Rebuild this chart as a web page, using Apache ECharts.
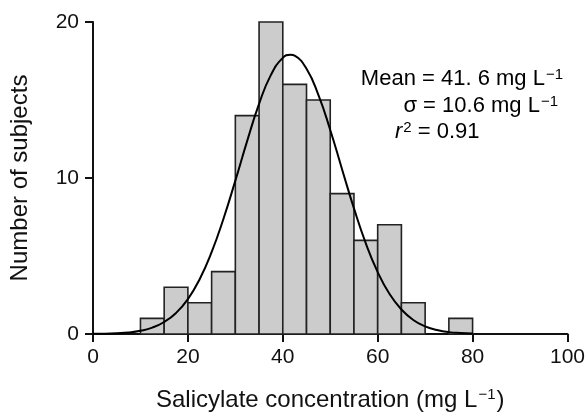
<!DOCTYPE html>
<html>
<head>
<meta charset="utf-8">
<script src="https://cdn.jsdelivr.net/npm/echarts@6/dist/echarts.min.js"></script>
<style>
html,body{margin:0;padding:0;background:#fff;}
#chart{width:588px;height:417px;}
</style>
</head>
<body>
<div id="chart"></div>
<script>
// Histogram bins (left edge, mg/L) and counts
var binStarts = [10, 15, 20, 25, 30, 35, 40, 45, 50, 55, 60, 65, 70, 75];
var binWidth = 5;
var counts = [1, 3, 2, 4, 14, 20, 16, 15, 9, 6, 7, 2, 0, 1];
// Fitted curve
var curveX = [0, 2.5, 5, 7.5, 10, 12.5, 15, 17.5, 20, 22.5, 25, 27.5, 30, 32.5, 35, 37.5, 40, 41.6, 42.5, 45, 47.5, 50, 52.5, 55, 57.5, 60, 62.5, 65, 67.5, 70, 72.5, 75, 77.5, 80];
var curveY = [0.01, 0.02, 0.05, 0.1, 0.21, 0.41, 0.77, 1.35, 2.24, 3.53, 5.25, 7.39, 9.83, 12.38, 14.75, 16.61, 17.7, 17.9, 17.84, 17.0, 15.33, 13.08, 10.55, 8.05, 5.81, 3.97, 2.56, 1.57, 0.9, 0.49, 0.26, 0.12, 0.06, 0.03];
var xTicks = [0, 20, 40, 60, 80, 100];
var yTicks = [0, 10, 20];

var FONT = 'Liberation Sans, Arial, Helvetica, sans-serif';
var chart = echarts.init(document.getElementById('chart'), null, {renderer: 'canvas'});

var barData = binStarts.map(function (s, i) { return [s, counts[i]]; });
var curveData = curveX.map(function (x, i) { return [x, curveY[i]]; });

var option = {
  backgroundColor: '#fff',
  animation: false,
  grid: {left: 92, right: 19, top: 22, bottom: 79},
  xAxis: {
    type: 'value', min: xTicks[0], max: xTicks[xTicks.length - 1], interval: 20,
    name: '{a|Salicylate concentration (mg L}{s|\u22121}{a|)}',
    nameLocation: 'middle', nameGap: 53,
    nameTextStyle: {
      rich: {
        a: {fontFamily: FONT, fontSize: 24, color: '#111'},
        s: {fontFamily: FONT, fontSize: 15, color: '#111', verticalAlign: 'top', padding: [0, 1, 11, 1]}
      }
    },
    axisLine: {show: true, onZero: false, lineStyle: {color: '#111', width: 2}},
    axisTick: {show: true, length: 8, lineStyle: {color: '#111', width: 2}},
    axisLabel: {fontFamily: FONT, fontSize: 21, color: '#111', margin: 13},
    splitLine: {show: false}
  },
  yAxis: {
    type: 'value', min: yTicks[0], max: yTicks[yTicks.length - 1], interval: 10,
    name: 'Number of subjects', nameLocation: 'middle', nameGap: 61,
    nameTextStyle: {fontFamily: FONT, fontSize: 24, color: '#111'},
    axisLine: {show: true, lineStyle: {color: '#111', width: 2}},
    axisTick: {show: true, length: 8, lineStyle: {color: '#111', width: 2}},
    axisLabel: {fontFamily: FONT, fontSize: 21, color: '#111', margin: 14},
    splitLine: {show: false}
  },
  series: [
    {
      type: 'custom',
      data: barData,
      z: 2,
      renderItem: function (params, api) {
        var x0 = api.value(0), v = api.value(1);
        if (!v) return null;
        var p1 = api.coord([x0, v]);
        var p2 = api.coord([x0 + binWidth, 0]);
        return {
          type: 'rect',
          shape: {x: p1[0], y: p1[1], width: p2[0] - p1[0], height: p2[1] - p1[1]},
          style: {fill: '#cccccc', stroke: '#222', lineWidth: 1.6}
        };
      }
    },
    {
      type: 'line',
      data: curveData,
      smooth: true,
      showSymbol: false,
      z: 3,
      lineStyle: {color: '#000', width: 2}
    }
  ],
  graphic: [
    {
      type: 'text', right: 25, top: 67, z: 10,
      style: {
        text: '{a|Mean = 41. 6 mg L}{s|\u22121}',
        rich: {
          a: {fontFamily: FONT, fontSize: 22, color: '#111'},
          s: {fontFamily: FONT, fontSize: 15, color: '#111', verticalAlign: 'top', padding: [0, 0, 9, 1]}
        }
      }
    },
    {
      type: 'text', right: 30, top: 94, z: 10,
      style: {
        text: '{a|\u03c3 = 10.6 mg L}{s|\u22121}',
        rich: {
          a: {fontFamily: FONT, fontSize: 22, color: '#111'},
          s: {fontFamily: FONT, fontSize: 15, color: '#111', verticalAlign: 'top', padding: [0, 0, 9, 1]}
        }
      }
    },
    {
      type: 'text', left: 395, top: 120, z: 10,
      style: {
        text: '{i|r}{s|2}{a| = 0.91}',
        rich: {
          i: {fontFamily: FONT, fontSize: 22, fontStyle: 'italic', color: '#111'},
          a: {fontFamily: FONT, fontSize: 22, color: '#111'},
          s: {fontFamily: FONT, fontSize: 15, color: '#111', verticalAlign: 'top', padding: [0, 0, 9, 1]}
        }
      }
    }
  ]
};
chart.setOption(option);
</script>
</body>
</html>
